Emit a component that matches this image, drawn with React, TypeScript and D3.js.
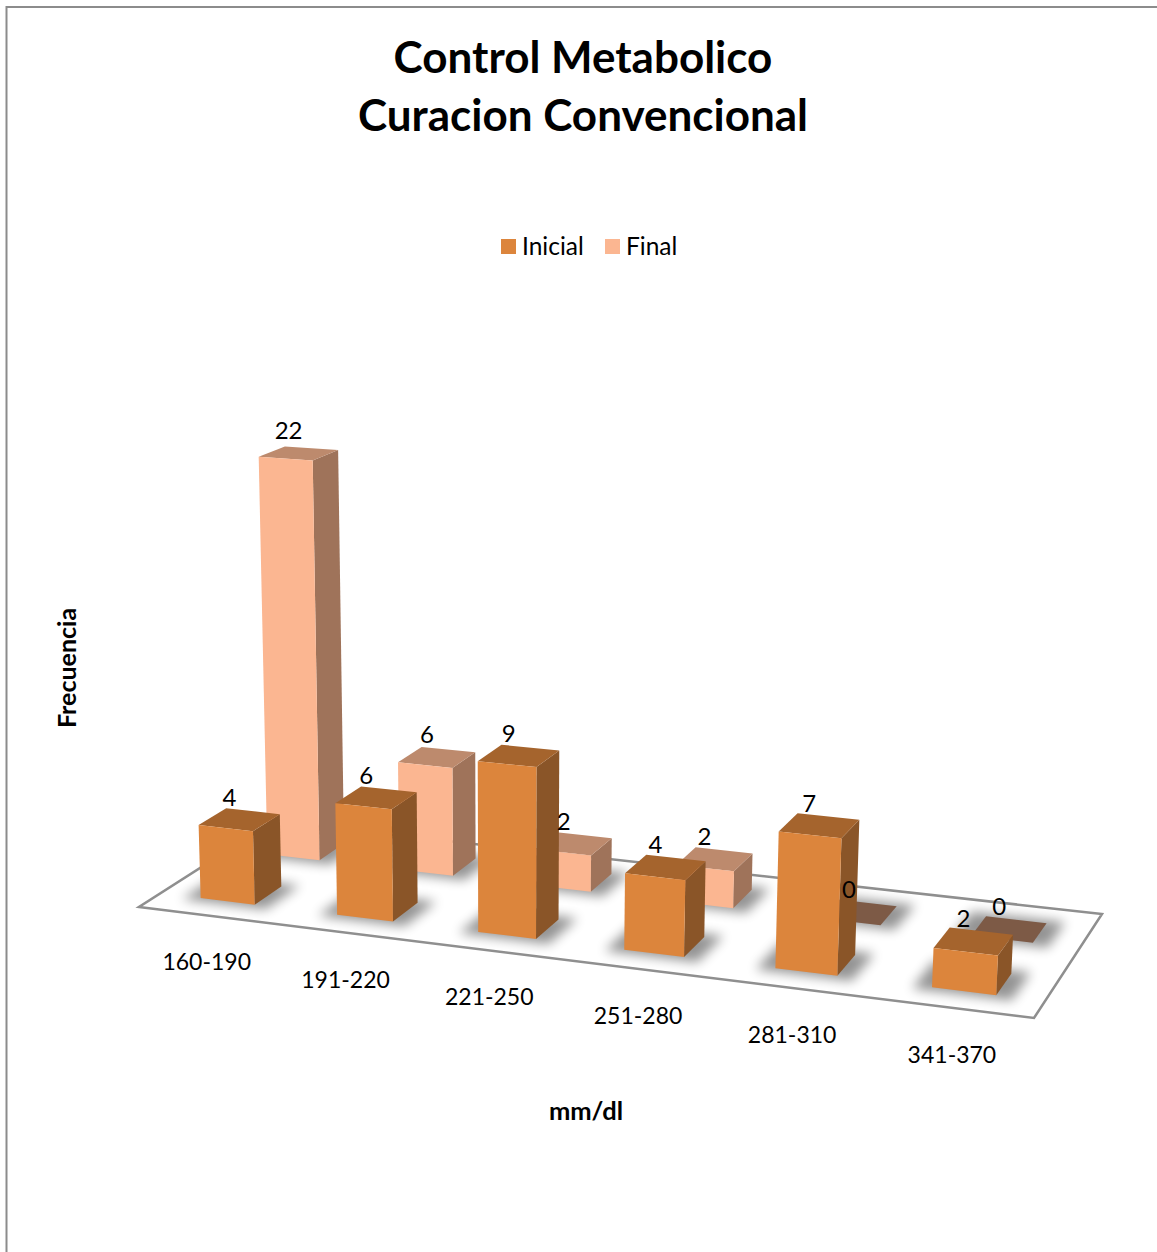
import React from "react";
import * as d3 from "d3";

// Chart content
const titleLines = ["Control Metabolico", "Curacion Convencional"];
const categories = ["160-190", "191-220", "221-250", "251-280", "281-310", "341-370"];
const seriesNames = ["Inicial", "Final"];
const inicialValues = [4, 6, 9, 4, 7, 2];
const finalValues = [22, 6, 2, 2, 0, 0];

const FONT = "Lato, 'Open Sans', sans-serif";

type Pt = [number, number];

// Screen corners of the chart floor: front-left, front-right, back-right, back-left
const floorCorners: Pt[] = [
  [139, 907],
  [1034, 1018],
  [1102, 914],
  [273, 821.5],
];
// Vanishing point of the vertical edges (the camera looks slightly down)
const verticalVanish: Pt = [510, 12000];

// Unit square to quadrilateral homography (returned as a 3x3 row array)
function squareToQuad(q: Pt[]) {
  const [[x0, y0], [x1, y1], [x2, y2], [x3, y3]] = q;
  const dx1 = x1 - x2, dx2 = x3 - x2, sx = x0 - x1 + x2 - x3;
  const dy1 = y1 - y2, dy2 = y3 - y2, sy = y0 - y1 + y2 - y3;
  const det = dx1 * dy2 - dx2 * dy1;
  const g = (sx * dy2 - dx2 * sy) / det;
  const h = (dx1 * sy - sx * dy1) / det;
  return [
    [x1 - x0 + g * x1, x3 - x0 + h * x3, x0],
    [y1 - y0 + g * y1, y3 - y0 + h * y3, y0],
    [g, h, 1],
  ];
}
const H = squareToQuad(floorCorners);

const catScale = d3.scaleBand<string>().domain(categories).range([0, 1]).paddingInner(0.6).paddingOuter(0.3);
const depthScale = d3.scaleBand<string>().domain(seriesNames).range([0, 1]).paddingInner(0.6).paddingOuter(0.3);
const valueScale = d3.scaleLinear().domain([0, 22]).range([0, 0.0345]);
const heightGain = 1.05;

// Perspective projection of floor position (s, t) raised to height z
function project(s: number, t: number, z = 0): Pt {
  const X = H[0][0] * s + H[0][1] * t + H[0][2];
  const Y = H[1][0] * s + H[1][1] * t + H[1][2];
  const W = H[2][0] * s + H[2][1] * t + H[2][2];
  const q = -z * heightGain;
  return [(X + q * verticalVanish[0]) / (W + q), (Y + q * verticalVanish[1]) / (W + q)];
}

const path = d3.line<Pt>().x((d) => d[0]).y((d) => d[1]).curve(d3.curveLinearClosed);

type SeriesStyle = { front: string; top: string; side: string; flat: string };
const styles: Record<string, SeriesStyle> = {
  Inicial: { front: "#DC853C", top: "#A5642D", side: "#8A5528", flat: "#7D5A46" },
  Final: { front: "#FBB691", top: "#BD8A6D", side: "#9F735A", flat: "#7D5A46" },
};

const seriesValues: Record<string, number[]> = { Inicial: inicialValues, Final: finalValues };
// Back row is painted first so the front row overlaps it
const paintOrder = ["Final", "Inicial"];

function Bar({ cat, series, value }: { cat: string; series: string; value: number }) {
  const s0 = catScale(cat)!;
  const s1 = s0 + catScale.bandwidth();
  const t0 = depthScale(series)!;
  const t1 = t0 + depthScale.bandwidth();
  const z = valueScale(value);
  const c = styles[series];
  if (value === 0) {
    return <path d={path([project(s0, t0), project(s1, t0), project(s1, t1), project(s0, t1)])!} fill={c.flat} />;
  }
  return (
    <g>
      <path d={path([project(s1, t0), project(s1, t1), project(s1, t1, z), project(s1, t0, z)])!} fill={c.side} />
      <path d={path([project(s0, t0, z), project(s1, t0, z), project(s1, t1, z), project(s0, t1, z)])!} fill={c.top} />
      <path d={path([project(s0, t0), project(s1, t0), project(s1, t0, z), project(s0, t0, z)])!} fill={c.front} />
    </g>
  );
}

function Shadow({ cat, series }: { cat: string; series: string }) {
  const pad = 0.018;
  const s0 = catScale(cat)! - pad;
  const s1 = catScale(cat)! + catScale.bandwidth() + pad;
  const t0 = depthScale(series)! - 0.03;
  const t1 = depthScale(series)! + depthScale.bandwidth() + 0.03;
  return (
    <path
      d={path([project(s0, t0), project(s1, t0), project(s1, t1), project(s0, t1)])!}
      fill="#000"
      opacity={0.42}
      filter="url(#floorShadow)"
    />
  );
}

function BarLabel({ cat, series, value }: { cat: string; series: string; value: number }) {
  const sMid = catScale(cat)! + catScale.bandwidth() / 2;
  const tMid = depthScale(series)! + depthScale.bandwidth() / 2;
  const [x, y] = project(sMid, tMid, valueScale(value));
  return (
    <text x={x - 10} y={y - 14} textAnchor="middle" fontSize={24} fill="#000">
      {value}
    </text>
  );
}

export default function App() {
  return (
    <svg
      width={1157}
      height={1252}
      style={{ position: "absolute", left: 0, top: 0, display: "block", background: "#fff" }}
      fontFamily={FONT}
    >
      <defs>
        <filter id="floorShadow" x="-40%" y="-80%" width="180%" height="260%">
          <feGaussianBlur stdDeviation={6} />
        </filter>
      </defs>

      {/* Chart area frame: only the top and left edges fall inside the page */}
      <path d="M6.5,1252V7H1157" fill="none" stroke="#8c8c8c" strokeWidth={2} />

      {titleLines.map((line, i) => (
        <text key={line} x={583} y={73 + i * 58} textAnchor="middle" fontSize={44} fontWeight={700} fill="#000">
          {line}
        </text>
      ))}

      {/* Legend */}
      <g fontSize={24.5} fill="#000">
        {seriesNames.map((name, i) => {
          const x = i === 0 ? 501 : 605;
          return (
            <g key={name}>
              <rect x={x} y={239} width={15} height={15} fill={styles[name].front} />
              <text x={x + 21} y={254.5}>{name}</text>
            </g>
          );
        })}
      </g>

      {/* Floor */}
      <path d={path(floorCorners)!} fill="#fff" stroke="#8f8f8f" strokeWidth={2.5} />

      {paintOrder.map((series) =>
        categories.map((cat) => <Shadow key={`${series}-${cat}`} cat={cat} series={series} />)
      )}
      {paintOrder.map((series) =>
        categories.map((cat, i) => (
          <Bar key={`${series}-${cat}`} cat={cat} series={series} value={seriesValues[series][i]} />
        ))
      )}
      {paintOrder.map((series) =>
        categories.map((cat, i) => (
          <BarLabel key={`${series}-${cat}`} cat={cat} series={series} value={seriesValues[series][i]} />
        ))
      )}

      {/* Category labels sit a fixed distance below the front floor edge */}
      {categories.map((cat) => {
        const [x, y] = project(catScale(cat)! + catScale.bandwidth() / 2, 0);
        return (
          <text key={cat} x={x} y={y + 55} textAnchor="middle" fontSize={23} fill="#000">
            {cat}
          </text>
        );
      })}

      <text x={586} y={1120} textAnchor="middle" fontSize={25.5} fontWeight={700} fill="#000">
        mm/dl
      </text>
      <text
        transform="translate(76,668) rotate(-90)"
        textAnchor="middle"
        fontSize={25}
        fontWeight={700}
        fill="#000"
      >
        Frecuencia
      </text>
    </svg>
  );
}
